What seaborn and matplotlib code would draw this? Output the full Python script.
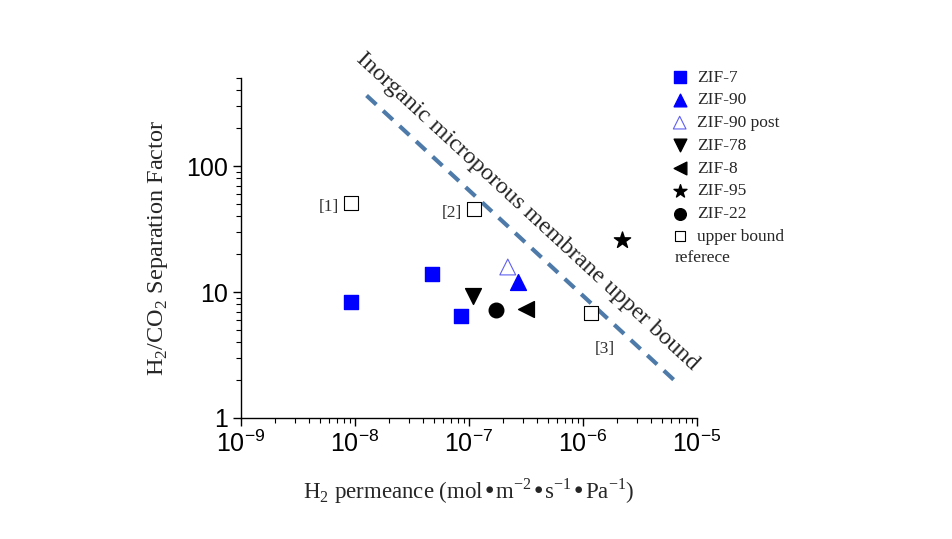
import matplotlib
matplotlib.use("Agg")
import matplotlib.pyplot as plt
import matplotlib.ticker as mticker
import pandas as pd
import seaborn as sns

# H2 permeance (mol m-2 s-1 Pa-1) and H2/CO2 separation factor
zif7_x = [9.3e-9, 4.8e-8, 8.5e-8]
zif7_y = [8.4, 13.8, 6.4]
zif90_x = [2.7e-7]
zif90_y = [12.1]
zif90post_x = [2.2e-7]
zif90post_y = [15.8]
zif78_x = [1.08e-7]
zif78_y = [9.3]
zif8_x = [3.2e-7]
zif8_y = [7.3]
zif95_x = [2.2e-6]
zif95_y = [25.7]
zif22_x = [1.73e-7]
zif22_y = [7.2]
ref_x = [9.3e-9, 1.12e-7, 1.17e-6]
ref_y = [50.7, 46.0, 6.8]
ref_labels = ["[1]", "[2]", "[3]"]

bound_x = [1.27e-8, 6.9e-6]
bound_y = [363, 1.86]

x_ticks = [1e-9, 1e-8, 1e-7, 1e-6, 1e-5]
y_ticks = [1, 10, 100]

SERIF = "Liberation Serif"
SANS = "Liberation Sans"

sns.set_style("ticks")
plt.rcParams["font.family"] = [SERIF, "DejaVu Serif"]

fig = plt.figure(figsize=(9.53, 5.39), dpi=100)
ax = fig.add_axes([0.2526, 0.2245, 0.4785, 0.6308])

series = [
    ("ZIF-7", zif7_x, zif7_y, "s", "#0000ff", "#0000ff", 110),
    ("ZIF-90", zif90_x, zif90_y, "^", "#0000ff", "#0000ff", 130),
    ("ZIF-90 post", zif90post_x, zif90post_y, "^", "none", "#6060f0", 130),
    ("ZIF-78", zif78_x, zif78_y, "v", "black", "black", 130),
    ("ZIF-8", zif8_x, zif8_y, "<", "black", "black", 130),
    ("ZIF-95", zif95_x, zif95_y, "*", "black", "black", 150),
    ("ZIF-22", zif22_x, zif22_y, "o", "black", "black", 110),
    ("upper bound", ref_x, ref_y, "s", "white", "black", 95),
]
for name, xs, ys, mk, fc, ec, size in series:
    df = pd.DataFrame({"x": xs, "y": ys})
    lw = 0.8 if fc in ("none", "white") else 1.0
    sns.scatterplot(data=df, x="x", y="y", marker=mk, s=size, facecolor=fc,
                    edgecolor=ec, linewidth=lw, label=name, ax=ax, zorder=3)

sns.lineplot(x=bound_x, y=bound_y, ax=ax, color="#4d7aa8", linewidth=3,
             linestyle=(0, (3.2, 2.2)), legend=False)

for lx, ly, lab in zip(ref_x, ref_y, ref_labels):
    if lab == "[3]":
        ax.annotate(lab, (lx, ly), xytext=(10, -26), textcoords="offset points",
                    ha="center", va="center", fontsize=12.5, color="#333333")
    else:
        ax.annotate(lab, (lx, ly), xytext=(-16, -3), textcoords="offset points",
                    ha="center", va="center", fontsize=12.5, color="#333333")

ax.text(3.25e-7, 43.5, "Inorganic microporous membrane upper bound",
        rotation=-42.7, rotation_mode="anchor", ha="center", va="center",
        fontsize=17.5)

ax.set_xscale("log")
ax.set_yscale("log")
ax.set_xlim(1e-9, 1e-5)
ax.set_ylim(1, 500)
ax.set_xticks(x_ticks)
ax.set_yticks(y_ticks)
ax.yaxis.set_major_formatter(mticker.FuncFormatter(lambda v, p: f"{v:g}"))
ax.xaxis.set_minor_locator(mticker.LogLocator(base=10, subs=range(2, 10)))
ax.yaxis.set_minor_locator(mticker.LogLocator(base=10, subs=range(2, 10)))
ax.yaxis.set_minor_formatter(mticker.NullFormatter())
ax.xaxis.set_minor_formatter(mticker.NullFormatter())
ax.tick_params(which="major", direction="out", length=6, width=1, color="black", pad=3)
ax.tick_params(which="minor", direction="out", length=3.5, width=0.8, color="black")
for lab in ax.get_xticklabels() + ax.get_yticklabels():
    lab.set_family(SANS)
    lab.set_fontsize(18)
    lab.set_color("black")

sns.despine(ax=ax)
for sp in ["left", "bottom"]:
    ax.spines[sp].set_color("black")
    ax.spines[sp].set_linewidth(1)

ax.set_xlabel(r"H$_\mathdefault{2}$ permeance (mol•m$^\mathdefault{-2}$•s$^\mathdefault{-1}$•Pa$^\mathdefault{-1}$)",
              fontsize=16.5, labelpad=14)
ax.set_ylabel(r"H$_\mathdefault{2}$/CO$_\mathdefault{2}$ Separation Factor", fontsize=17.5, labelpad=12)

leg = ax.legend(loc="upper left", bbox_to_anchor=(0.705, 0.871), bbox_transform=fig.transFigure,
                frameon=False, fontsize=12.5, borderpad=0, handletextpad=0.55,
                labelspacing=0.38, handlelength=0.9, borderaxespad=0, markerscale=0.8)
fig.text(0.7075, 0.521, "referece", fontsize=12.5, va="center", ha="left")

fig.savefig("out.png", dpi=100)
